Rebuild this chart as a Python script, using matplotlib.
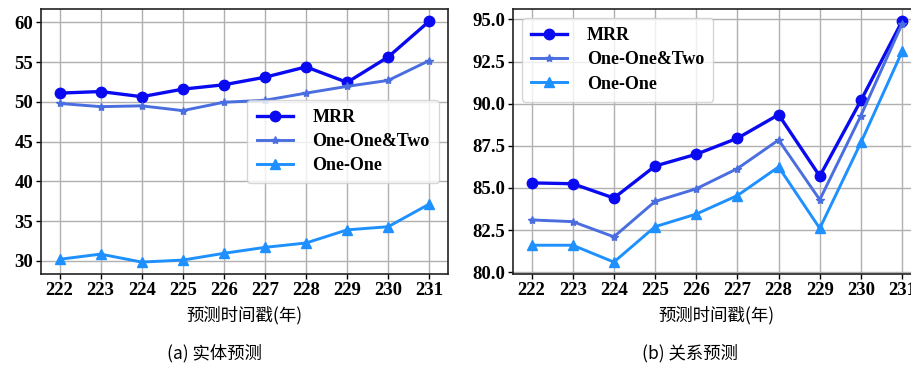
import matplotlib
matplotlib.use("Agg")
import matplotlib.pyplot as plt
from matplotlib.ticker import MultipleLocator, FormatStrFormatter

years = [222, 223, 224, 225, 226, 227, 228, 229, 230, 231]

ent_mrr = [51.1, 51.3, 50.65, 51.6, 52.15, 53.1, 54.4, 52.45, 55.65, 60.15]
ent_two = [49.8, 49.4, 49.5, 48.9, 49.95, 50.2, 51.1, 51.95, 52.7, 55.2]
ent_one = [30.2, 30.85, 29.85, 30.1, 30.95, 31.7, 32.25, 33.9, 34.3, 37.15]

rel_mrr = [85.3, 85.25, 84.4, 86.3, 87.0, 87.95, 89.35, 85.7, 90.2, 94.9]
rel_two = [83.1, 83.0, 82.1, 84.2, 84.95, 86.15, 87.85, 84.3, 89.3, 94.75]
rel_one = [81.6, 81.6, 80.6, 82.7, 83.45, 84.55, 86.25, 82.6, 87.7, 93.1]

labels = ["MRR", "One-One&Two", "One-One"]
xlabel = "预测时间戳(年)"
captions = ["(a) 实体预测", "(b) 关系预测"]

serif = ["Liberation Serif", "DejaVu Serif"]
cjk = ["Noto Sans CJK SC", "DejaVu Sans"]

fig = plt.figure(figsize=(9.12, 3.65), dpi=100)
ax1 = fig.add_axes([0.045, 0.249, 0.446, 0.726])
ax2 = fig.add_axes([0.5625, 0.249, 0.447, 0.726])

colors = ["#0a0af0", "#4a6ee0", "#1e90ff"]
markers = ["o", "*", "^"]
msizes = [7.5, 6, 7]

ax2.yaxis.set_major_locator(MultipleLocator(2.5))
ax2.yaxis.set_major_formatter(FormatStrFormatter("%.1f"))

for ax, series, loc in [(ax1, [ent_mrr, ent_two, ent_one], "center right"),
                        (ax2, [rel_mrr, rel_two, rel_one], "upper left")]:
    for s, c, m, ms, lab in zip(series, colors, markers, msizes, labels):
        lw = 2.4 if m == "o" else 2.1
        ax.plot(years, s, color=c, marker=m, markersize=ms, linewidth=lw, label=lab, zorder=3)
    ax.grid(True, color="#b0b0b0", linewidth=1.0)
    ax.set_xticks(years)
    ax.tick_params(axis="both", length=3.5, width=1, pad=2)
    for t in ax.get_xticklabels() + ax.get_yticklabels():
        t.set_fontfamily(serif)
        t.set_fontweight("bold")
        t.set_fontsize(13.5)
    for sp in ax.spines.values():
        sp.set_linewidth(1.2)
        sp.set_color("#222222")
    ax.set_xlabel(xlabel, fontfamily=cjk, fontsize=12.5, labelpad=5)
    ax.legend(loc=loc, prop={"family": serif, "weight": "bold", "size": 13},
              handlelength=2.0, handletextpad=1.1, labelspacing=0.4,
              borderpad=0.5, framealpha=0.8, fancybox=True)

fig.text(0.235, 0.033, captions[0], fontfamily=cjk, fontsize=12.5, ha="center", va="center")
fig.text(0.757, 0.033, captions[1], fontfamily=cjk, fontsize=12.5, ha="center", va="center")

fig.savefig("out.png", dpi=100)
